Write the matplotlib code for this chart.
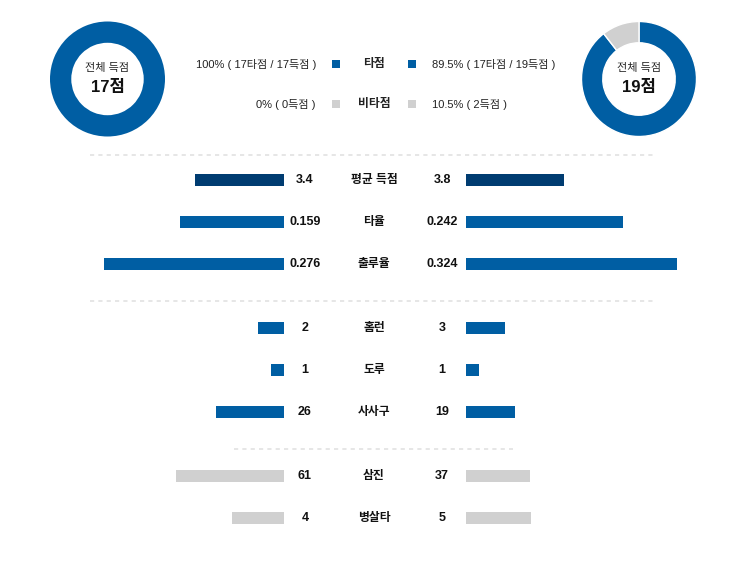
import matplotlib
matplotlib.use("Agg")
import matplotlib.pyplot as plt
from matplotlib.patches import Rectangle

plt.rcParams["font.family"] = ["Liberation Sans", "Noto Sans CJK KR", "DejaVu Sans"]

# ---- data -------------------------------------------------------------
total_runs = [17, 19]
rbi_runs = [17, 17]          # 타점
non_rbi_runs = [0, 2]        # 비타점
legend_left = ["100% ( 17타점 / 17득점 )", "0% ( 0득점 )"]
legend_right = ["89.5% ( 17타점 / 19득점 )", "10.5% ( 2득점 )"]
legend_labels = ["타점", "비타점"]

stat_labels = ["평균 득점", "타율", "출루율", "홈런", "도루", "사사구", "삼진", "병살타"]
left_vals = [3.4, 0.159, 0.276, 2, 1, 26, 61, 4]
right_vals = [3.8, 0.242, 0.324, 3, 1, 19, 37, 5]
left_text = ["3.4", "0.159", "0.276", "2", "1", "26", "61", "4"]
right_text = ["3.8", "0.242", "0.324", "3", "1", "19", "37", "5"]

# ---- style / layout (pixel units) -------------------------------------
W, H = 745, 569
NAVY = "#003c71"
BLUE = "#005ea3"
GRAY = "#d0d0d0"
row_y = [180, 222, 264, 328, 370, 412, 476, 518]
px_per_unit = [26, 652, 652, 13, 13, 2.6, 1.755, 13]
row_color = [NAVY, BLUE, BLUE, BLUE, BLUE, BLUE, GRAY, GRAY]
LEFT_END, RIGHT_START = 283.5, 465.5
BAR_H = 12
separators = [(155, 90, 655), (301, 90, 655), (449, 234, 513)]

fig = plt.figure(figsize=(W / 100, H / 100), dpi=100)
ax = fig.add_axes([0, 0, 1, 1])
ax.set_xlim(0, W)
ax.set_ylim(H, 0)
ax.axis("off")

# donuts
R_OUT = 57.5
for cx, cy, tot, a, b in [(107.5, 79, total_runs[0], rbi_runs[0], non_rbi_runs[0]),
                          (639, 79, total_runs[1], rbi_runs[1], non_rbi_runs[1])]:
    dax = fig.add_axes([(cx - R_OUT) / W, (H - cy - R_OUT) / H, 2 * R_OUT / W, 2 * R_OUT / H])
    vals = [v for v in (a, b) if v > 0]
    cols = [c for v, c in zip((a, b), (BLUE, GRAY)) if v > 0]
    dax.pie(vals, colors=cols, startangle=90, counterclock=False,
            wedgeprops=dict(width=0.37, edgecolor="white", linewidth=1.0 if len(vals) > 1 else 0))
    dax.set_xlim(-1, 1)
    dax.set_ylim(-1, 1)
    ax.text(cx, cy - 11, "전체 득점", ha="center", va="center", fontsize=8, color="#222222")
    ax.text(cx, cy + 8, f"{tot}점", ha="center", va="center", fontsize=12,
            fontweight="bold", color="#111111")

# legend rows
for i, (ly, col) in enumerate([(64, BLUE), (104, GRAY)]):
    ax.text(316, ly, legend_left[i], ha="right", va="center", fontsize=8, color="#222222")
    ax.text(374, ly, legend_labels[i], ha="center", va="center", fontsize=8.5,
            fontweight="bold", color="#222222")
    ax.text(432, ly, legend_right[i], ha="left", va="center", fontsize=8, color="#222222")
    for sx in (336, 412):
        ax.add_patch(Rectangle((sx - 4, ly - 4), 8, 8, color=col, lw=0))

# dashed separators
for y, x0, x1 in separators:
    ax.plot([x0, x1], [y, y], color="#e2e2e2", lw=1.2, ls=(0, (2.5, 2.5)))

# bars
for i, lab in enumerate(stat_labels):
    y = row_y[i]
    s = px_per_unit[i]
    ax.barh(y, -left_vals[i] * s, left=LEFT_END, height=BAR_H, color=row_color[i], lw=0)
    ax.barh(y, right_vals[i] * s, left=RIGHT_START, height=BAR_H, color=row_color[i], lw=0)
    ax.text(305, y, left_text[i], ha="center", va="center", fontsize=9,
            fontweight="bold", color="#111111")
    ax.text(374, y, lab, ha="center", va="center", fontsize=8.5,
            fontweight="bold", color="#111111")
    ax.text(442, y, right_text[i], ha="center", va="center", fontsize=9,
            fontweight="bold", color="#111111")

fig.savefig("out.png", dpi=100, facecolor="white")
